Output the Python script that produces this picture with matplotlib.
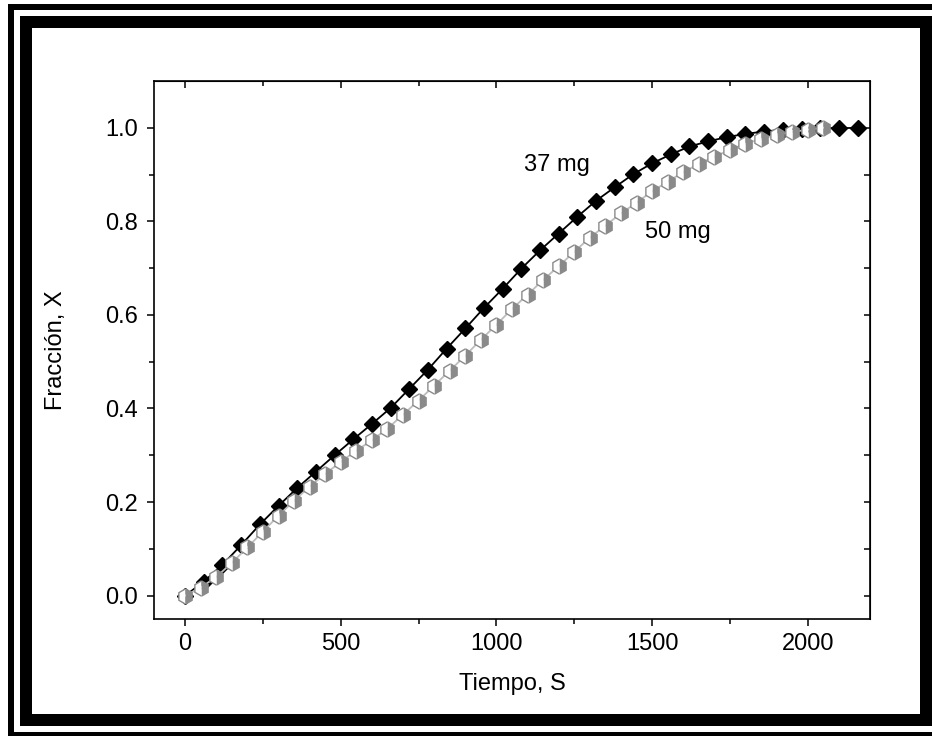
import numpy as np
import matplotlib
matplotlib.use('Agg')
import matplotlib.pyplot as plt
from matplotlib.patches import Rectangle

# 37 mg sample, one point every 60 s
t_37 = [0, 60, 120, 180, 240, 300, 360, 420, 480, 540, 600, 660, 720, 780,
        840, 900, 960, 1020, 1080, 1140, 1200, 1260, 1320, 1380, 1440, 1500,
        1560, 1620, 1680, 1740, 1800, 1860, 1920, 1980, 2040, 2100, 2160]
x_37 = [0.0, 0.03, 0.066, 0.108, 0.152, 0.192, 0.23, 0.265, 0.30, 0.334,
        0.367, 0.401, 0.442, 0.483, 0.528, 0.571, 0.615, 0.656, 0.699, 0.738,
        0.774, 0.81, 0.844, 0.873, 0.901, 0.924, 0.943, 0.96, 0.971, 0.98,
        0.987, 0.992, 0.996, 0.998, 1.0, 0.999, 1.0]

# 50 mg sample, one point every 50 s
t_50 = [0, 50, 100, 150, 200, 250, 300, 350, 400, 450, 500, 550, 600, 650,
        700, 750, 800, 850, 900, 950, 1000, 1050, 1100, 1150, 1200, 1250,
        1300, 1350, 1400, 1450, 1500, 1550, 1600, 1650, 1700, 1750, 1800,
        1850, 1900, 1950, 2000, 2050]
x_50 = [0.0, 0.017, 0.04, 0.07, 0.103, 0.137, 0.171, 0.203, 0.233, 0.26,
        0.286, 0.31, 0.332, 0.357, 0.387, 0.417, 0.449, 0.481, 0.513, 0.547,
        0.579, 0.613, 0.643, 0.675, 0.704, 0.735, 0.765, 0.791, 0.817, 0.84,
        0.864, 0.885, 0.905, 0.923, 0.938, 0.953, 0.966, 0.976, 0.985, 0.991,
        0.996, 1.0]

labels = ('37 mg', '50 mg')
xticks = [0, 500, 1000, 1500, 2000]
yticks = [0.0, 0.2, 0.4, 0.6, 0.8, 1.0]

plt.rcParams['font.family'] = ['Liberation Sans', 'DejaVu Sans']
plt.rcParams['font.size'] = 17

W, H = 932, 736
fig = plt.figure(figsize=(W / 100, H / 100), dpi=100)


def px_rect(x0, y0, x1, y1, color):
    # pixel box (top-left origin) -> figure fraction patch
    fig.patches.append(Rectangle((x0 / W, 1 - y1 / H), (x1 - x0) / W, (y1 - y0) / H,
                                 transform=fig.transFigure, color=color, lw=0,
                                 zorder=-10))


# double black frame around the picture
px_rect(8, 4, 960, 760, 'black')
px_rect(14, 10, 960, 732, 'white')
px_rect(20, 16, 960, 726, 'black')
px_rect(32, 28, 920, 714, 'white')

ax = fig.add_axes([154 / W, 1 - 619 / H, 716 / W, 538 / H])

ax.plot(t_37, x_37, color='black', lw=1.3, marker='D', ms=8,
        mfc='black', mec='black', zorder=3)
ax.plot(t_50, x_50, color='#bdbdbd', lw=1.3, marker='h', ms=11,
        fillstyle='right', mfc='#8a8a8a', mfcalt='white', mec='#8a8a8a',
        mew=1.0, zorder=4)

ax.text(1087, 0.921, labels[0], va='center', ha='left')
ax.text(1478, 0.778, labels[1], va='center', ha='left')

ax.set_xlim(-100, 2200)
ax.set_ylim(-0.05, 1.1)
ax.set_xticks(xticks)
ax.set_xticks(np.arange(250, 2200, 500), minor=True)
ax.set_yticks(yticks)
ax.set_yticklabels(['%.1f' % v for v in yticks])
ax.set_yticks(np.arange(0.1, 1.1, 0.2), minor=True)
ax.tick_params(which='major', direction='out', length=5, width=1.1)
ax.tick_params(which='minor', direction='out', length=3.5, width=1.1)
ax.tick_params(axis='x', which='major', pad=5)
ax.tick_params(axis='y', which='major', pad=6.5)
for s in ax.spines.values():
    s.set_linewidth(1.2)

# inward ticks on top and right
top = ax.secondary_xaxis('top')
top.set_xticks(xticks)
top.set_xticks(np.arange(250, 2200, 500), minor=True)
top.tick_params(which='both', direction='in', labeltop=False, width=1.1)
top.tick_params(which='major', length=5)
top.tick_params(which='minor', length=3.5)
right = ax.secondary_yaxis('right')
right.set_yticks(yticks)
right.set_yticks(np.arange(0.1, 1.1, 0.2), minor=True)
right.tick_params(which='both', direction='in', labelright=False, width=1.1,
                  length=4)

ax.set_xlabel('Tiempo, S')
ax.set_ylabel('Fracción, X')
ax.xaxis.set_label_coords(0.5, -0.101)
ax.yaxis.set_label_coords(-0.1215, 0.5)

fig.savefig('out.png', dpi=100)
